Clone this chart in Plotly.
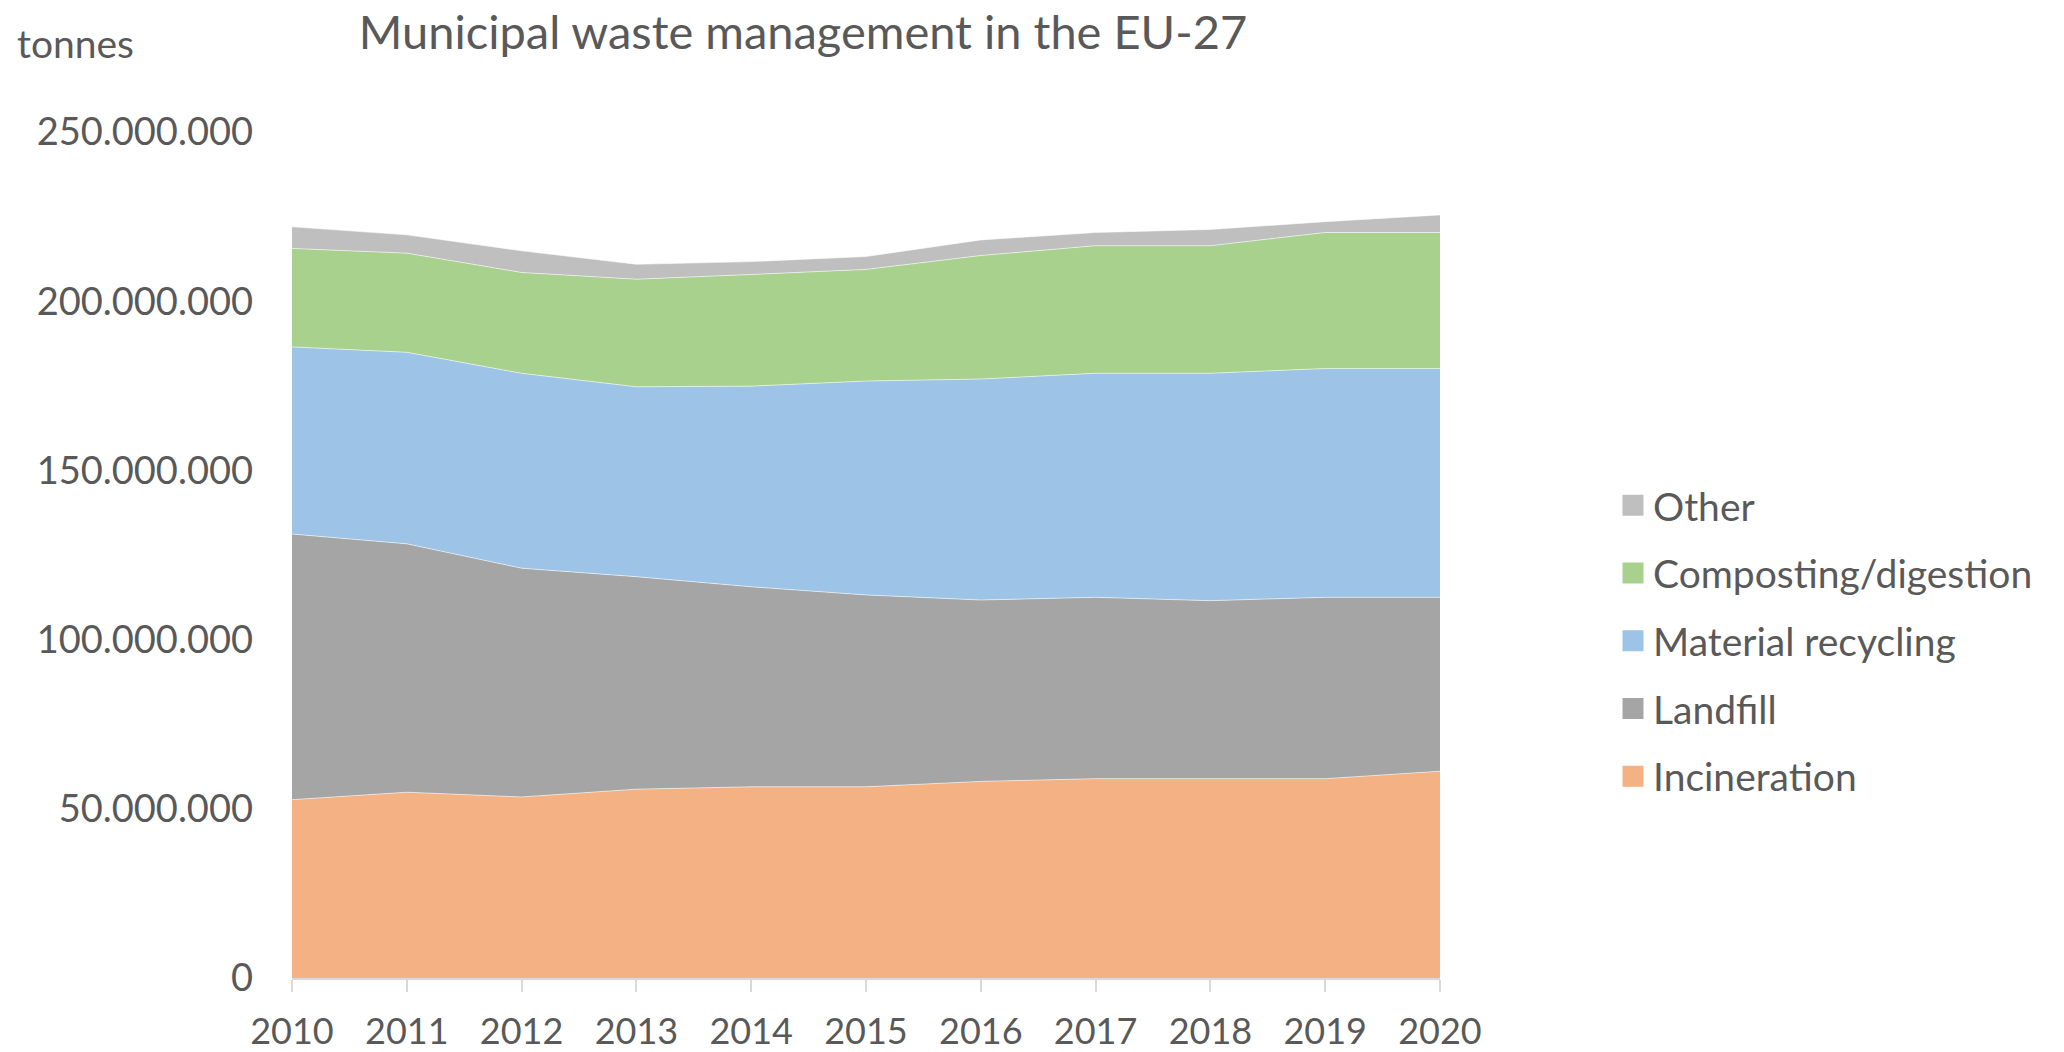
import plotly.graph_objects as go

years = [2010, 2011, 2012, 2013, 2014, 2015, 2016, 2017, 2018, 2019, 2020]

# values in tonnes (millions)
incineration = [52.7, 54.9, 53.5, 55.8, 56.5, 56.5, 58.1, 58.9, 58.9, 58.9, 61.1]
landfill = [78.5, 73.4, 67.6, 62.8, 59.1, 56.7, 53.6, 53.6, 52.6, 53.6, 51.4]
material_recycling = [55.3, 56.6, 57.6, 56.1, 59.3, 63.2, 65.3, 66.2, 67.2, 67.6, 67.6]
composting = [29.1, 29.3, 29.8, 31.8, 33.0, 33.0, 36.5, 37.7, 37.7, 40.2, 40.2]
other = [6.4, 5.4, 6.4, 4.4, 3.8, 3.8, 4.6, 3.9, 4.8, 3.2, 5.2]

series_names = ["Incineration", "Landfill", "Material recycling", "Composting/digestion", "Other"]
series_values = [incineration, landfill, material_recycling, composting, other]
series_colors = ["#F4B183", "#A5A5A5", "#9DC3E6", "#A9D18E", "#BFBFBF"]

y_tickvals = [0, 50e6, 100e6, 150e6, 200e6, 250e6]

FONT = "Lato"
TXT = "#595959"
W, H = 2064, 1052
L, R, T, B = 292, 2064 - 1440, 132, 1052 - 978
PW, PH = W - L - R, H - T - B

fig = go.Figure()
# legend swatches (square markers), listed top to bottom as in the legend
for name, col in reversed(list(zip(series_names, series_colors))):
    fig.add_trace(go.Scatter(
        x=[None], y=[None], name=name, mode="markers", legendgroup="lg_" + name,
        marker=dict(symbol="square", size=16, color=col, line=dict(width=5, color=col)),
        showlegend=True, hoverinfo="skip",
    ))
# stacked areas
for name, vals, col in zip(series_names, series_values, series_colors):
    fig.add_trace(go.Scatter(
        x=years, y=[v * 1e6 for v in vals], name=name, stackgroup="one",
        mode="lines", line=dict(width=1, color="rgba(255,255,255,0.55)"),
        fillcolor=col, showlegend=False, legendgroup="lg_" + name, hoverinfo="x+y+name",
    ))

fig.update_layout(
    width=W, height=H,
    margin=dict(l=L, r=R, t=T, b=B, autoexpand=False),
    paper_bgcolor="white", plot_bgcolor="white",
    separators=",.",
    font=dict(family=FONT, size=38, color=TXT),
    title=dict(text="Municipal waste management in the EU-27", x=803 / W, xref="container",
               xanchor="center", y=1 - 33 / H, yref="container", yanchor="middle",
               font=dict(family=FONT, size=47, color=TXT)),
    showlegend=True,
    legend=dict(traceorder="grouped", xref="container", yref="container",
                x=1613 / W, xanchor="left", y=1 - 473.5 / H, yanchor="top",
                font=dict(family=FONT, size=39, color=TXT), tracegroupgap=14,
                itemsizing="trace", bgcolor="rgba(0,0,0,0)"),
    annotations=[dict(text="tonnes", xref="paper", yref="paper", x=(15 - L) / PW,
                      xanchor="left", y=1 + (T - 42.5) / PH, yanchor="middle", showarrow=False,
                      font=dict(family=FONT, size=39, color=TXT))],
)
fig.update_xaxes(range=[2010, 2020], tickmode="array", tickvals=years,
                 ticktext=[str(y) for y in years], automargin=False,
                 showgrid=False, showline=True, linecolor="#D9D9D9", linewidth=2,
                 ticks="outside", ticklen=12, tickcolor="#D9D9D9", tickwidth=2,
                 ticklabelstandoff=9, zeroline=False, tickfont=dict(size=36))
fig.update_yaxes(range=[0, 250e6], tickvals=y_tickvals, tickformat=",.0f", automargin=False,
                 showgrid=True, gridcolor="#D9D9D9", gridwidth=2,
                 showline=False, zeroline=False, ticks="", ticklabelstandoff=38)

fig.write_html("out.html", config={"displayModeBar": False},
               post_script="document.body.style.margin='0';")
